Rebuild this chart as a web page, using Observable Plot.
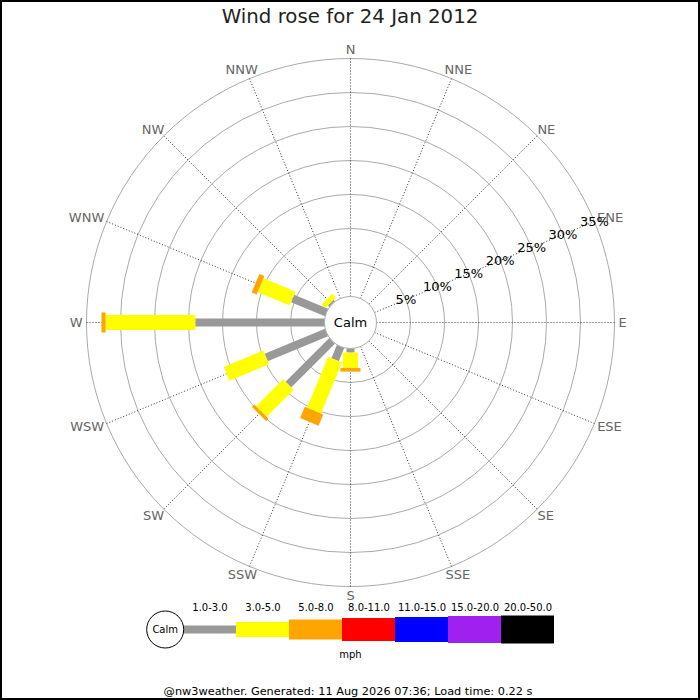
<!DOCTYPE html>
<html>
<head>
<meta charset="utf-8">
<script src="https://cdn.jsdelivr.net/npm/d3@7"></script>
<script src="https://cdn.jsdelivr.net/npm/@observablehq/plot@0.6"></script>
<style>
html, body { margin: 0; padding: 0; background: #fff; }
#chart { position: relative; width: 700px; height: 700px; overflow: hidden; background: #fff; font-family: "DejaVu Sans", sans-serif; }
#chart svg { position: absolute; left: 0; }
#title { position: absolute; left: 0; width: 700px; top: 6px; text-align: center; font-size: 19.8px; line-height: 22px; color: #222; }
#footer { position: absolute; left: 0; width: 696px; top: 685px; text-align: center; font-size: 11.3px; line-height: 14px; color: #000; }
#frame { position: absolute; left: 0; top: 0; width: 700px; height: 700px; box-sizing: border-box; border: 2px solid #000; pointer-events: none; }
</style>
</head>
<body>
<div id="chart"></div>
<script>
// ---------------- data ----------------
const titleText = "Wind rose for 24 Jan 2012";
const footerText = "@nw3weather. Generated: 11 Aug 2026 07:36; Load time: 0.22 s";
const calmLabel = "Calm";
const unitLabel = "mph";
const directions = ["N","NNE","NE","ENE","E","ESE","SE","SSE","S","SSW","SW","WSW","W","WNW","NW","NNW"];
const speedBins = ["1.0-3.0","3.0-5.0","5.0-8.0","8.0-11.0","11.0-15.0","15.0-20.0","20.0-50.0"];
// percentage of observations per direction (same order as directions) for each speed bin
const pct_1_3   = [0,0,0,0,0,0,0,0, 0.6, 2.1, 9.1, 9.6, 19.0, 5.4, 0.3,  0];
const pct_3_5   = [0,0,0,0,0,0,0,0, 2.25,8.1, 5.6, 6.3, 13.2, 5.1, 0.75, 0];
const pct_5_8   = [0,0,0,0,0,0,0,0, 0.55,1.8, 0.5, 0,   0.6,  0.8, 0,    0];
const pct_8_11  = [0,0,0,0,0,0,0,0, 0,   0,   0,   0,   0,    0,   0,    0];
const pct_11_15 = [0,0,0,0,0,0,0,0, 0,   0,   0,   0,   0,    0,   0,    0];
const pct_15_20 = [0,0,0,0,0,0,0,0, 0,   0,   0,   0,   0,    0,   0,    0];
const pct_20_50 = [0,0,0,0,0,0,0,0, 0,   0,   0,   0,   0,    0,   0,    0];
const ringPcts = [5,10,15,20,25,30,35];

// ---------------- styles ----------------
const binColors = ["#999999","#ffff00","#ffa500","#ff0000","#0000ff","#a020f0","#000000"];
const binWidths = [8,15,20,23,25,27,28];
const W = 700, H = 700, CX = 350, CY = 322;
const K = 6.8;          // pixels per percent
const HOLE_PX = 26;     // calm circle radius
const hole = HOLE_PX / K;
const outerPct = ringPcts[ringPcts.length - 1];
const labelAngleIdx = directions.indexOf("ENE");

// ---------------- build tables ----------------
const series = [pct_1_3, pct_3_5, pct_5_8, pct_8_11, pct_11_15, pct_15_20, pct_20_50];
const rad = i => i * 2 * Math.PI / directions.length;
const ux = i => Math.sin(rad(i));
const uy = i => Math.cos(rad(i));

const segments = [];
directions.forEach((dir, i) => {
  let cum = 0;
  series.forEach((s, b) => {
    const v = s[i];
    if (v > 0) segments.push({dir, i, b, start: cum, end: cum + v});
    cum += v;
  });
});

const ctx = document.createElement("canvas").getContext("2d");
ctx.font = "13px 'DejaVu Sans'";
const LABEL_H = 10, LABEL_GAP = 4;
const dirRows = directions.map((dir, i) => {
  const w = ctx.measureText(dir).width;
  return {dir, i, w};
});

const ringRows = ringPcts.map(p => ({p, label: p + "%"}));

// ---------------- main rose ----------------
const rose = Plot.plot({
  width: W, height: H, margin: 0,
  style: {fontFamily: "DejaVu Sans", background: "transparent", overflow: "visible"},
  x: {domain: [-CX / K, (W - CX) / K], range: [0, W], axis: null},
  y: {domain: [-(H - CY) / K, CY / K], range: [H, 0], axis: null},
  r: {type: "linear", domain: [0, outerPct], range: [HOLE_PX, HOLE_PX + outerPct * K]},
  marks: [
    Plot.dot(ringRows, {x: 0, y: 0, r: "p", fill: "none", stroke: "#aaaaaa", strokeWidth: 1}),
    Plot.link(dirRows, {
      x1: d => hole * ux(d.i), y1: d => hole * uy(d.i),
      x2: d => (hole + outerPct) * ux(d.i), y2: d => (hole + outerPct) * uy(d.i),
      stroke: "#333", strokeWidth: 1, strokeDasharray: "1,2"
    }),
    Plot.link(segments, {
      x1: d => (hole + d.start) * ux(d.i), y1: d => (hole + d.start) * uy(d.i),
      x2: d => (hole + d.end) * ux(d.i), y2: d => (hole + d.end) * uy(d.i),
      stroke: d => binColors[d.b], strokeWidth: d => binWidths[d.b], strokeLinecap: "butt"
    }),
    Plot.dot([calmLabel], {x: 0, y: 0, r: HOLE_PX, fill: "white", stroke: "#aaaaaa", strokeWidth: 1}),
    Plot.text([calmLabel], {x: 0, y: 0, text: d => d, fontSize: 13, fill: "#000"}),
    Plot.text(dirRows, {
      x: d => (hole + outerPct) * ux(d.i) + ux(d.i) * (LABEL_GAP + d.w / 2) / K,
      y: d => (hole + outerPct) * uy(d.i) + uy(d.i) * (LABEL_GAP + LABEL_H / 2) / K,
      text: "dir", fontSize: 13, fill: "#666"
    }),
    Plot.text(ringRows, {
      x: d => (hole + d.p) * ux(labelAngleIdx), y: d => (hole + d.p) * uy(labelAngleIdx),
      text: "label", fontSize: 13, fill: "#000"
    })
  ]
});
rose.style.top = "0px";

// ---------------- legend ----------------
const legendRows = speedBins.map((label, b) => ({label, b}));
const legend = Plot.plot({
  width: W, height: 80, margin: 0,
  style: {fontFamily: "DejaVu Sans", background: "transparent", overflow: "visible"},
  x: {type: "band", domain: speedBins, range: [181, 556], padding: 0, axis: null},
  y: {domain: [-1, 1], axis: null},
  marks: [
    Plot.tickY(legendRows, {x: "label", y: 0, stroke: d => binColors[d.b], strokeWidth: d => binWidths[d.b]}),
    Plot.dot([calmLabel], {x: () => speedBins[0], y: 0, dx: -44.8, r: 18.5, fill: "white", stroke: "#000", strokeWidth: 1}),
    Plot.text([calmLabel], {x: () => speedBins[0], y: 0, dx: -44.8, text: d => d, fontSize: 10, fill: "#000"}),
    Plot.text(legendRows, {x: "label", text: "label", frameAnchor: "top", lineAnchor: "middle", dy: 18, fontSize: 10, fill: "#000"}),
    Plot.text([unitLabel], {frameAnchor: "bottom", lineAnchor: "middle", dy: -15, text: d => d, fontSize: 10, fill: "#000"})
  ]
});
legend.style.top = "589px";

const chart = document.getElementById("chart");
const title = document.createElement("div");
title.id = "title"; title.textContent = titleText;
const footer = document.createElement("div");
footer.id = "footer"; footer.textContent = footerText;
const frame = document.createElement("div");
frame.id = "frame";
chart.append(rose, legend, title, footer, frame);
</script>
</body>
</html>
